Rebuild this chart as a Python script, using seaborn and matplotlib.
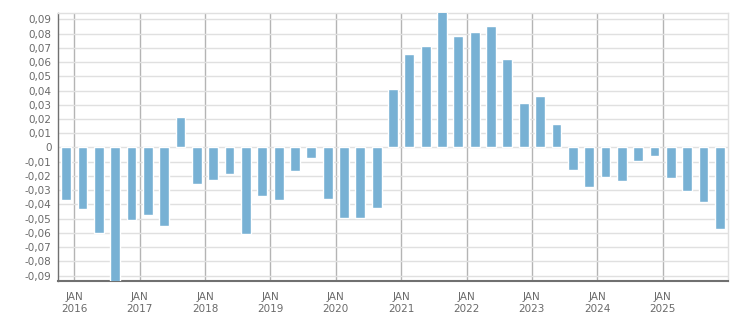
"""Quarterly bar chart of values around zero, 2016-2025."""

import matplotlib

matplotlib.use("Agg")
import matplotlib.pyplot as plt
import pandas as pd
import seaborn as sns
from matplotlib.ticker import FuncFormatter

# Quarters from Q4 2015 to Q4 2025
quarters = [f"{y}Q{q}" for y in range(2015, 2026) for q in range(1, 5)][3:]
values = [
    -0.0367, -0.0431, -0.0598, -0.0970,
    -0.0509, -0.0471, -0.0549, 0.0212,
    -0.0259, -0.0226, -0.0184, -0.0605,
    -0.0344, -0.0372, -0.0167, -0.0075,
    -0.0365, -0.0492, -0.0492, -0.0422,
    0.0410, 0.0657, 0.0714, 0.0960,
    0.0784, 0.0813, 0.0855, 0.0622,
    0.0311, 0.0360, 0.0163, -0.0160,
    -0.0280, -0.0210, -0.0238, -0.0097,
    -0.0061, -0.0217, -0.0309, -0.0386,
    -0.0570,
]
years = list(range(2016, 2026))
tick_labels = [f"JAN\n{y}" for y in years]

BAR_COLOR = "#78b1d4"
TEXT_COLOR = "#6a6a6a"

df = pd.DataFrame({"quarter": quarters, "value": values})

sns.set_style("white")
fig = plt.figure(figsize=(7.51, 3.13), dpi=100)
ax = fig.add_axes([58 / 751, 1 - 281 / 313, (728 - 58) / 751, (281 - 13) / 313])

sns.barplot(data=df, x="quarter", y="value", color=BAR_COLOR, saturation=1,
            width=0.6, ax=ax, zorder=3)

ax.set_xlim(-0.5, len(quarters) - 0.5)
ax.set_ylim(-0.0938, 0.0945)

# Jan of each year sits between the Q4 bar and the Q1 bar
major = [0.5 + 4 * i for i in range(len(years))]
minor = [i - 0.5 for i in range(1, len(quarters))]
ax.set_xticks(major)
ax.set_xticklabels(tick_labels)
ax.set_xticks(minor, minor=True)

yticks = [round(v * 0.01, 2) for v in range(-9, 10)]
ax.set_yticks(yticks)
ax.yaxis.set_major_formatter(
    FuncFormatter(lambda v, _: "0" if abs(v) < 1e-9 else f"{v:.2f}".replace(".", ","))
)

ax.set_axisbelow(True)
ax.yaxis.grid(True, color="#e0e0e0", linewidth=1)
ax.xaxis.grid(True, which="major", color="#b4b4b4", linewidth=1)

for side in ["top", "right"]:
    ax.spines[side].set_color("#e0e0e0")
    ax.spines[side].set_linewidth(1)
ax.spines["left"].set_color("#707070")
ax.spines["left"].set_linewidth(1)
ax.spines["bottom"].set_color("#707070")
ax.spines["bottom"].set_linewidth(1.5)

ax.tick_params(axis="y", which="major", direction="out", length=3, width=0.8,
               color="#707070", labelsize=7.5, labelcolor=TEXT_COLOR, pad=1.5)
ax.tick_params(axis="x", which="major", direction="out", length=4, width=1,
               color="#b4b4b4", labelsize=7.5, labelcolor=TEXT_COLOR, pad=4)
ax.tick_params(axis="x", which="minor", direction="out", length=3, width=0.8,
               color="#a0a0a0")

ax.set_xlabel("")
ax.set_ylabel("")

fig.savefig("out.png", dpi=100)
plt.close(fig)
